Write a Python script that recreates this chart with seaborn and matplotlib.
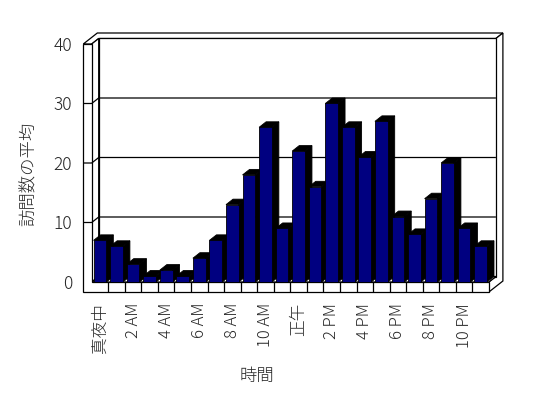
import matplotlib
matplotlib.use("Agg")
import matplotlib.pyplot as plt
from matplotlib.patches import Polygon
import seaborn as sns

# hourly average visits (0:00 .. 23:00)
hours = list(range(24))
visits = [7, 6, 3, 1, 2, 1, 4, 7, 13, 18, 26, 9,
          22, 16, 30, 26, 21, 27, 11, 8, 14, 20, 9, 6]
tick_pos = [0, 2, 4, 6, 8, 10, 12, 14, 16, 18, 20, 22]
tick_labels = ["真夜中", "2 AM", "4 AM", "6 AM", "8 AM", "10 AM",
               "正午", "2 PM", "4 PM", "6 PM", "8 PM", "10 PM"]
y_ticks = [0, 10, 20, 30, 40]

sns.set_style("white")
plt.rcParams["font.family"] = ["Noto Sans CJK JP", "DejaVu Sans"]
plt.rcParams["font.weight"] = "light"

W, H = 548, 398
fig = plt.figure(figsize=(W / 100, H / 100), dpi=100)
ax = fig.add_axes([91.7 / W, 1 - 282 / H, 397.2 / W, 238 / H])

sns.barplot(x=hours, y=visits, color="#000080", saturation=1, width=0.77,
            edgecolor="black", linewidth=0.6, ax=ax)
ax.set_xlim(-0.5, 23.5)
ax.set_ylim(0, 40)

# pixel sizes of one data unit, for the fake 3d depth
pos = ax.get_position()
px_x = pos.width * W / 24
px_y = pos.height * H / 40
dx, dy = 7 / px_x, 5.5 / px_y      # depth of the box
tx, ty = 8.4 / px_x, 10 / px_y     # wall / floor thickness
X0, X1, Y0, Y1 = -0.5, 23.5, 0, 40


def poly(pts, fc="white", z=1, lw=0.9):
    ax.add_patch(Polygon(pts, closed=True, facecolor=fc, edgecolor="black",
                         linewidth=lw, clip_on=False, zorder=z))


def line(xs, ys, z=1.5):
    ax.plot(xs, ys, color="black", lw=0.9, clip_on=False, zorder=z,
            solid_capstyle="butt")


# walls and floor
poly([(X0 - tx, Y1), (X0, Y1), (X0 + dx, Y1 + dy), (X1 + dx, Y1 + dy),
      (X1 + 2 * dx, Y1 + 2 * dy), (X0 - tx + 2 * dx, Y1 + 2 * dy)])
poly([(X1, Y0 - ty), (X1, Y0), (X1 + dx, Y0 + dy), (X1 + dx, Y1 + dy),
      (X1 + 2 * dx, Y1 + 2 * dy), (X1 + 2 * dx, Y0 - ty + 2 * dy)])
poly([(X0 + dx, Y0 + dy), (X1 + dx, Y0 + dy), (X1 + dx, Y1 + dy), (X0 + dx, Y1 + dy)])
poly([(X0, Y0), (X0, Y1), (X0 + dx, Y1 + dy), (X0 + dx, Y0 + dy)])
poly([(X0, Y0), (X1, Y0), (X1 + dx, Y0 + dy), (X0 + dx, Y0 + dy)])
poly([(X0 - tx, Y0 - ty), (X1, Y0 - ty), (X1, Y0), (X0, Y0), (X0, Y1), (X0 - tx, Y1)])

for v in y_ticks[1:-1]:
    line([X0 - tx, X0, X0 + dx, X1 + dx], [v, v, v + dy, v + dy])
for k in range(23):
    line([k + 0.5, k + 0.5], [Y0 - ty, Y0])

# 3d bars: side and top faces built from the seaborn bars
bars = list(ax.patches)[:len(visits)]
for i, p in enumerate(bars):
    x0, w, h = p.get_x(), p.get_width(), p.get_height()
    z = 3 + 2 * i
    poly([(x0 + w, 0), (x0 + w, h), (x0 + w + dx, h + dy), (x0 + w + dx, dy)],
         fc="black", z=z, lw=0.6)
    poly([(x0, h), (x0 + w, h), (x0 + w + dx, h + dy), (x0 + dx, h + dy)],
         fc="black", z=z, lw=0.6)
    p.set_zorder(z + 1)

ax.patch.set_visible(False)
for s in ax.spines.values():
    s.set_visible(False)

ax.set_yticks(y_ticks)
ax.set_yticklabels([str(v) for v in y_ticks], fontsize=12.5)
ax.set_xticks(tick_pos)
ax.set_xticklabels(tick_labels, rotation=90, fontsize=12, va="top")
ax.tick_params(axis="y", length=0, pad=14)
ax.tick_params(axis="x", length=0, pad=15)
ax.set_xlabel("")
ax.set_ylabel("")

fig.text(257 / W, 1 - 376 / H, "時間", fontsize=12.5, ha="center", va="center")
fig.text(28.5 / W, 1 - 174 / H, "訪問数の平均", fontsize=12.5, rotation=90,
         ha="center", va="center")

fig.savefig("out.png", dpi=100, facecolor="white")
